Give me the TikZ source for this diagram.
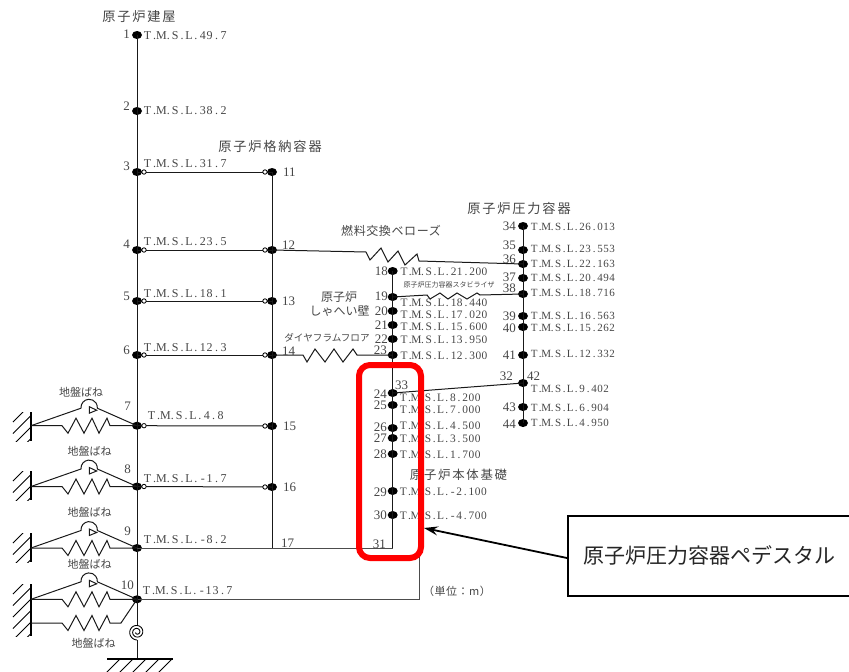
\documentclass[tikz,border=0pt]{standalone}
\usepackage{fontspec}
\setmainfont{Liberation Serif}
\newfontfamily\cjkf{Noto Sans CJK JP}
\newfontfamily\cjkw[LetterSpace=14]{Noto Sans CJK JP}
\newfontfamily\cjkn[LetterSpace=5]{Noto Sans CJK JP}
\usetikzlibrary{shapes.geometric,arrows.meta}
\definecolor{txt}{RGB}{70,70,70}
\newlength{\cellw}
\def\cellloop#1{\ifx#1\relax\else\makebox[\cellw][c]{#1}\expandafter\cellloop\fi}
\newcommand{\tmsA}[1]{\setlength{\cellw}{6.9pt}\fontsize{12}{13}\selectfont\cellloop T.M.S.L.#1\relax}
\newcommand{\tmsB}[1]{\setlength{\cellw}{6.2pt}\fontsize{11.4}{13}\selectfont\cellloop T.M.S.L.#1\relax}
\newcommand{\tmsC}[1]{\setlength{\cellw}{6pt}\fontsize{11}{13}\selectfont\cellloop T.M.S.L.#1\relax}
\tikzset{
  dotn/.style={ellipse,fill=black,draw=none,minimum width=10pt,minimum height=8pt,inner sep=0pt},
  hole/.style={circle,fill=white,draw=black,line width=0.8pt,minimum size=4.4pt,inner sep=0pt},
  beam/.style={line width=1pt,black!90},
  tlab/.style={anchor=west,inner sep=0pt,text=txt},
  numb/.style={inner sep=0pt,text=txt,font=\fontsize{13}{14}\selectfont},
  numr/.style={numb,anchor=east},
  numl/.style={numb,anchor=west},
  title/.style={inner sep=0pt,text=txt,font=\fontsize{13.2}{14}\cjkw},
  capt/.style={inner sep=0pt,text=txt,font=\fontsize{11}{12}\cjkf}
}
\newcommand{\wallh}[2]{% top and bottom y of a wall at x=31
  \draw[line width=1.2pt] (31,#1) -- (31,#2);
  \begin{scope}
    \clip (10,#1) rectangle (31,#2);
    \foreach \hy in {0,11.5,...,80}{\draw[line width=0.8pt] (31,#1-8+\hy) -- (13,#1+10+\hy);}
  \end{scope}}
\newcommand{\gsunit}[2]{% node name, y
  \begin{scope}[shift={(0,#2)}]
    \coordinate (w#1) at (31,0);
    \draw[beam] (w#1) -- (62,0) -- (68,7.5) -- (76,-7.5) -- (84,7.5) -- (92,-7.5) -- (99,7.5) -- (107,-7.5) -- (110,0) -- (#1.center);
    \draw[beam] (w#1) -- (81,-17.5) arc[start angle=175,end angle=365,radius=8.2] -- (#1.center);
    \draw[beam] (89.3,-19) -- (89.3,-12.5) -- (96.7,-15.5) -- cycle;
  \end{scope}}
\begin{document}
\begin{tikzpicture}[x=1pt,y=-1pt]
\useasboundingbox (0,0) rectangle (849,672);
\foreach \nm/\py in {n1/35,n2/111,n3/172,n4/250,n5/301,n6/355,n7/425.7,n8/486.5,n9/548,n10/599.3}
  \node[dotn] (\nm) at (137,\py) {};
\foreach \nm/\py in {n11/172,n12/250,n13/301,n14/355,n15/426,n16/487}
  \node[dotn] (\nm) at (272,\py) {};
\foreach \nm/\py in {n18/271,n19/297,n20/311,n21/325,n22/339,n23/355,n24/393,n25/405,n26/428,n27/438,n28/454,n29/491,n30/515}
  \node[dotn] (\nm) at (392.7,\py) {};
\foreach \nm/\py in {n34/226,n35/250,n36/264,n37/278,n38/294,n39/316,n40/327,n41/355,n42/383,n43/407,n44/423}
  \node[dotn] (\nm) at (523,\py) {};
\coordinate (n17) at (272,548);
\coordinate (n31) at (392.7,548);
\coordinate (n10c) at (419,599.3);
\coordinate (n10d) at (419,548);
\coordinate (grd) at (137,659);
\draw[beam] (n1.center) -- (n10.center);
\draw[beam] (n11.center) -- (n17);
\draw[beam] (n18.center) -- (n31);
\draw[beam] (n34.center) -- (n44.center);
\foreach \a/\b in {n3/n11,n4/n12,n5/n13,n6/n14,n7/n15,n8/n16}
  \draw[beam] (\a.center) -- (\b.center);
\draw[beam,black!70] (n9.center) -- (n31);
\draw[beam,black!70] (n10.center) -- (n10c) -- (n10d);
\draw[beam] (n24.center) -- (n42.center);
\draw[beam] (n12.center) -- (366,252) -- (370,260) -- (381,248) -- (388,262) -- (398,251) -- (405,265) -- (417,254) -- (419,261) -- (n36.center);
\draw[beam] (n19.center) -- (427,295) -- (430,299) -- (440,293) -- (448,299) -- (457,293) -- (467,299) -- (477,293) -- (480,295) -- (n38.center);
\draw[beam] (n14.center) -- (303,355) -- (307,362) -- (315,349) -- (325,362) -- (334,349) -- (343,362) -- (353,349) -- (357,355) -- (n23.center);
\foreach \nm/\py in {h3/172,h4/250,h5/301,h6/355,h7/425.7,h8/486.5}
  \node[hole] (\nm) at (144,\py) {};
\foreach \nm/\py in {h11/172,h12/250,h13/301,h14/355,h15/426,h16/487}
  \node[hole] (\nm) at (265,\py) {};
\wallh{412}{441}
\wallh{471}{500}
\wallh{533}{562}
\wallh{584}{636}
\gsunit{n7}{425.7}
\gsunit{n8}{486.5}
\gsunit{n9}{548}
\gsunit{n10}{599.3}
\coordinate (w10b) at (31,623);
\draw[beam] (w10b) -- (62,623) -- (68,630.5) -- (76,615.5) -- (84,630.5) -- (92,615.5) -- (99,630.5) -- (107,615.5) -- (110,623) -- (121,623) -- (n10.center);
\draw[beam] (n10.center) -- (137,625);
\draw[beam] (137,640) -- (grd);
\draw[line width=0.9pt] plot[smooth,domain=90:880,samples=70] ({137+(8-6.5*(\x-90)/790)*cos(\x)},{632+(8-6.5*(\x-90)/790)*sin(\x)});
\draw[line width=1.1pt] (107,659) -- (173,659);
\begin{scope}
  \clip (100,659) rectangle (175,672);
  \foreach \hx in {120,133,146,159,172}{\draw[line width=0.8pt] (\hx,659) -- (\hx-14,673);}
\end{scope}
\node[tlab] (t1) at (144,36) {\tmsA{49.7}};
\node[tlab] (t2) at (144,111) {\tmsA{38.2}};
\node[tlab] (t3) at (144,164) {\tmsA{31.7}};
\node[tlab] (t4) at (144,242) {\tmsA{23.5}};
\node[tlab] (t5) at (144,294) {\tmsA{18.1}};
\node[tlab] (t6) at (144,348) {\tmsA{12.3}};
\node[tlab] (t7) at (148,416) {\tmsA{4.8}};
\node[tlab] (t8) at (144,479) {\tmsA{-1.7}};
\node[tlab] (t9) at (144,540) {\tmsA{-8.2}};
\node[tlab] (t10) at (143,591) {\tmsA{-13.7}};
\node[tlab] (t18) at (400.7,272) {\tmsB{21.200}};
\node[tlab] (t19) at (400.7,303) {\tmsB{18.440}};
\node[tlab] (t20) at (400.7,315) {\tmsB{17.020}};
\node[tlab] (t21) at (400.7,327) {\tmsB{15.600}};
\node[tlab] (t22) at (400.7,340) {\tmsB{13.950}};
\node[tlab] (t23) at (400.7,356) {\tmsB{12.300}};
\node[tlab] (t24) at (400,398) {\tmsB{8.200}};
\node[tlab] (t25) at (400,410) {\tmsB{7.000}};
\node[tlab] (t26) at (400,426) {\tmsB{4.500}};
\node[tlab] (t27) at (400,439) {\tmsB{3.500}};
\node[tlab] (t28) at (400,455) {\tmsB{1.700}};
\node[tlab] (t29) at (400,492) {\tmsB{-2.100}};
\node[tlab] (t30) at (400,516) {\tmsB{-4.700}};
\node[tlab] (t34) at (531,227) {\tmsC{26.013}};
\node[tlab] (t35) at (531,249) {\tmsC{23.553}};
\node[tlab] (t36) at (531,264) {\tmsC{22.163}};
\node[tlab] (t37) at (531,278) {\tmsC{20.494}};
\node[tlab] (t38) at (531,293) {\tmsC{18.716}};
\node[tlab] (t39) at (531,316) {\tmsC{16.563}};
\node[tlab] (t40) at (531,328) {\tmsC{15.262}};
\node[tlab] (t41) at (531,354) {\tmsC{12.332}};
\node[tlab] (t42) at (531,389) {\tmsC{9.402}};
\node[tlab] (t43) at (531,408) {\tmsC{6.904}};
\node[tlab] (t44) at (531,423) {\tmsC{4.950}};
\foreach \nm/\px/\py/\tx in {a1/130/34/1,a2/130/106/2,a3/130/166/3,a4/130/244/4,a5/130/296/5,a6/130/350/6,a7/131/406/7,a8/131/469/8,a9/131/531/9,a10/134/585/10,
  a18/388/271/18,a19/388/296/19,a20/388/311/20,a21/388/325/21,a22/388/339/22,a23/387/350/23,a24/387/394/24,a25/387/405/25,a26/387/427/26,a27/387/438/27,a28/387/454/28,a29/387/492/29,a30/387/515/30,a31/386/544/31,
  a34/516/226/34,a35/516/245/35,a36/516/259/36,a37/516/277/37,a38/516/288/38,a39/516/316/39,a40/516/328/40,a41/516/355/41,a32/513/376/32,a43/516/407/43,a44/516/424/44}
  \node[numr] (\nm) at (\px,\py) {\tx};
\foreach \nm/\px/\py/\tx in {a11/283/172/11,a12/282/245/12,a13/282/301/13,a14/282/351/14,a15/283/426/15,a16/283/487/16,a17/281/543/17,a33/395/385/33,a42/527/376/42}
  \node[numl] (\nm) at (\px,\py) {\tx};
\node[title] (c1) at (139,17) {原子炉建屋};
\node[title] (c2) at (270,146) {原子炉格納容器};
\node[title] (c3) at (519,209) {原子炉圧力容器};
\node[capt,font=\fontsize{12}{13}\cjkn] (c4) at (391,231) {燃料交換ベローズ};
\node[capt,font=\fontsize{7}{8}\cjkf] (c5) at (449,285) {原子炉圧力容器スタビライザ};
\node[capt,font=\fontsize{12}{13}\cjkf] (c6) at (339,297) {原子炉};
\node[capt,font=\fontsize{12}{13}\cjkf] (c7) at (339.5,311) {しゃへい壁};
\node[capt,font=\fontsize{9.6}{11}\cjkf] (c8) at (327,338) {ダイヤフラムフロア};
\node[title,font=\fontsize{12.4}{14}\cjkw] (c9) at (458.5,475) {原子炉本体基礎};
\node[capt] (c10) at (81,392) {地盤ばね};
\node[capt] (c11) at (89.5,451) {地盤ばね};
\node[capt] (c12) at (89.5,512) {地盤ばね};
\node[capt] (c13) at (89.5,564) {地盤ばね};
\node[capt] (c14) at (93.5,643) {地盤ばね};
\node[capt,font=\fontsize{11}{12}\cjkn] (c15) at (457,591) {（単位：m）};
\node[draw=red,line width=6pt,rounded corners=11pt,fill=none,minimum width=62pt,minimum height=193pt,inner sep=0pt] (hl) at (390,461.5) {};
\node[draw=black,line width=1.6pt,fill=white,anchor=north west,minimum width=290pt,minimum height=80pt,inner sep=0pt] (cb) at (567,515) {};
\node[anchor=west,inner sep=0pt,font=\fontsize{21}{22}\cjkf,text=black!85] (cbt) at (583,555) {原子炉圧力容器ペデスタル};
\coordinate (cbl) at (567,558);
\coordinate (hlr) at (424,528);
\draw[line width=1.8pt,-{Stealth[length=14pt,width=9pt,inset=5pt]}] (cbl) -- (hlr);
\end{tikzpicture}
\end{document}
